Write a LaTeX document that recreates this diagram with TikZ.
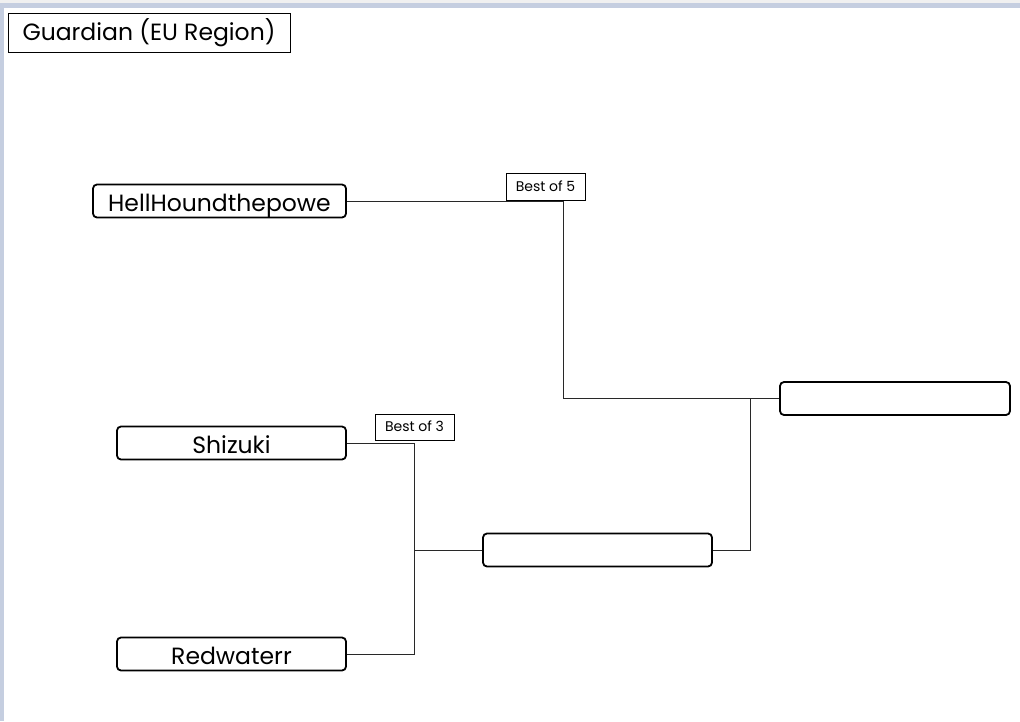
\documentclass[tikz,border=0pt]{standalone}
\usepackage{fontspec}
\setmainfont{Poppins}
\definecolor{band}{RGB}{197,206,224}
\definecolor{topgray}{RGB}{240,240,240}
\definecolor{conn}{RGB}{40,40,40}
\begin{document}
\begin{tikzpicture}[x=1pt,y=-1pt,
  team/.style={draw, line width=1.8pt, rounded corners=4pt, inner sep=0pt, minimum height=33pt, text height=20.4pt, text depth=0pt, font=\fontsize{23.5}{27}\selectfont},
  bestof/.style={draw, line width=0.8pt, inner sep=0pt, minimum width=79pt, minimum height=27pt, text height=9.8pt, text depth=0pt, font=\fontsize{14}{16}\selectfont},
  titlebox/.style={draw, line width=0.8pt, inner sep=0pt, minimum width=282pt, minimum height=39pt, text height=16.4pt, text depth=0pt, font=\fontsize{23.5}{27}\selectfont},
  connector/.style={draw=conn, line width=0.9pt}]
\useasboundingbox (0,0) rectangle (1020,721);
\fill[white] (0,0) rectangle (1020,721);
\fill[topgray] (0,0) rectangle (1020,3);
\fill[band] (0,3) rectangle (1020,8);
\fill[band] (0,3) rectangle (4,721);

\node[titlebox] (title) at (149,32.5) {Guardian (EU Region)};

\node[team, minimum width=253pt] (hh) at (219.5,201) {HellHoundthepowe};
\node[team, minimum width=229pt] (sh) at (231.5,443) {Shizuki};
\node[team, minimum width=229pt] (rw) at (231.5,654) {Redwaterr};
\node[team, minimum width=229pt] (mid) at (597.5,550) {};
\node[team, minimum width=230pt] (fin) at (895,398.5) {};

\coordinate (j1) at (563,201);
\coordinate (j2) at (563,398.5);
\coordinate (j3) at (750,398.5);
\coordinate (j4) at (750,550);
\coordinate (k1) at (414,443);
\coordinate (k2) at (414,654);
\coordinate (k3) at (414,550);

\draw[connector] (hh.east) -- (j1) -- (j2) -- (fin.west);
\draw[connector] (mid.east) -- (j4) -- (j3);
\draw[connector] (sh.east) -- (k1) -- (k2) -- (rw.east);
\draw[connector] (k3) -- (mid.west);

\node[bestof, fill=white] (b5) at (545.5,187) {Best of 5};
\node[bestof, fill=white, minimum height=26pt] (b3) at (414.5,427) {Best of 3};
\end{tikzpicture}
\end{document}
